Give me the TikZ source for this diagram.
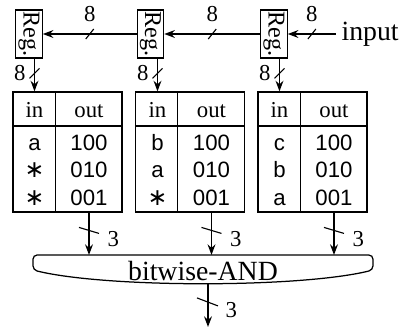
\documentclass[tikz,border=0pt]{standalone}
\usepackage{fontspec}
\setmainfont{Liberation Serif}
\setsansfont{Liberation Sans}
\newfontfamily\symfont{DejaVu Sans}
\usepackage{graphicx}
\usetikzlibrary{math}
\usetikzlibrary{arrows.meta}
\usetikzlibrary{positioning}

\newcommand{\anyin}{{\symfont\fontsize{8.5}{8.5}\selectfont ∗}}

\tikzset{
  reg/.style={draw, line width=0.4pt, minimum width=9.5pt, minimum height=17.3pt, inner sep=0pt, font=\fontsize{8.7}{8.7}\selectfont},
  tab/.style={draw, line width=0.45pt, minimum width=39.2pt, minimum height=43.2pt, inner sep=0pt},
  bus/.style={line width=0.7pt, -{Stealth[length=3.8pt,width=2.8pt]}},
  head/.style={anchor=base, inner sep=0pt, font=\fontsize{8.2}{8.2}\selectfont},
  cell/.style={anchor=base, inner sep=0pt, font=\sffamily\fontsize{8}{8}\selectfont},
  lbl/.style={inner sep=0pt, font=\fontsize{8.2}{8.2}\selectfont},
  big/.style={inner sep=0pt, font=\fontsize{10}{10}\selectfont},
  slash/.style={line width=0.4pt},
}

\begin{document}
\begin{tikzpicture}[x=0.36pt, y=-0.36pt]
    \useasboundingbox (0,0) rectangle (404,329);

    \tikzmath{\yr = 34;};
    \tikzmath{\yh = 117;};
    \tikzmath{\ya = 150;};
    \tikzmath{\yb = 177.5;};
    \tikzmath{\yc = 205;};

    % registers and input
    \node[reg] (reg1) at (29,\yr) {\rotatebox{-90}{Reg.}};
    \node[reg] (reg2) at (150.5,\yr) {\rotatebox{-90}{Reg.}};
    \node[reg] (reg3) at (274,\yr) {\rotatebox{-90}{Reg.}};
    \node[big, anchor=west] (input) at (341,\yr) {input};
    \coordinate (src) at (336,\yr);

    \draw[bus] (src) -- coordinate (s3) (reg3.east);
    \draw[bus] (reg3.west) -- coordinate (s2) (reg2.east);
    \draw[bus] (reg2.west) -- coordinate (s1) (reg1.east);
    \draw[slash] ([shift={(-4,5)}]s1) -- ([shift={(4,-5)}]s1);
    \draw[slash] ([shift={(-4,5)}]s2) -- ([shift={(4,-5)}]s2);
    \draw[slash] ([shift={(-4,5)}]s3) -- ([shift={(4,-5)}]s3);
    \node[lbl, above=4.3pt of s1] (w1) {8};
    \node[lbl, above=4.3pt of s2] (w2) {8};
    \node[lbl, above=4.3pt of s3] (w3) {8};

    % tables
    \node[tab] (tab1) at (67.5,152) {};
    \node[tab] (tab2) at (190,152) {};
    \node[tab] (tab3) at (312.5,152) {};
    \draw (tab1.north west) ++(43,0) coordinate (d1) -- (d1 |- tab1.south);
    \draw (tab2.north west) ++(43,0) coordinate (d2) -- (d2 |- tab2.south);
    \draw (tab3.north west) ++(43,0) coordinate (d3) -- (d3 |- tab3.south);
    \draw (tab1.west |- 0,126) -- (tab1.east |- 0,126);
    \draw (tab2.west |- 0,126) -- (tab2.east |- 0,126);
    \draw (tab3.west |- 0,126) -- (tab3.east |- 0,126);

    \node[head] (hin1) at (34.5,\yh) {in};
    \node[head] (hout1) at (89,\yh) {out};
    \node[cell] (a1) at (34.5,\ya) {a};
    \node[cell] (b1) at (34.5,\yb) {\anyin};
    \node[cell] (c1) at (34.5,\yc) {\anyin};
    \node[cell] (p1) at (89,\ya) {100};
    \node[cell] (q1) at (89,\yb) {010};
    \node[cell] (r1) at (89,\yc) {001};

    \node[head] (hin2) at (157.5,\yh) {in};
    \node[head] (hout2) at (211.5,\yh) {out};
    \node[cell] (a2) at (157.5,\ya) {b};
    \node[cell] (b2) at (157.5,\yb) {a};
    \node[cell] (c2) at (157.5,\yc) {\anyin};
    \node[cell] (p2) at (211.5,\ya) {100};
    \node[cell] (q2) at (211.5,\yb) {010};
    \node[cell] (r2) at (211.5,\yc) {001};

    \node[head] (hin3) at (279.5,\yh) {in};
    \node[head] (hout3) at (334,\yh) {out};
    \node[cell] (a3) at (279.5,\ya) {c};
    \node[cell] (b3) at (279.5,\yb) {b};
    \node[cell] (c3) at (279.5,\yc) {a};
    \node[cell] (p3) at (334,\ya) {100};
    \node[cell] (q3) at (334,\yb) {010};
    \node[cell] (r3) at (334,\yc) {001};

    % register -> table
    \draw[bus] (reg1.south -| hin1) -- coordinate[pos=0.45] (v1) (hin1 |- tab1.north);
    \draw[bus] (reg2.south -| hin2) -- coordinate[pos=0.45] (v2) (hin2 |- tab2.north);
    \draw[bus] (reg3.south -| hin3) -- coordinate[pos=0.45] (v3) (hin3 |- tab3.north);
    \draw[slash] ([shift={(-5,5)}]v1) -- ([shift={(5,-5)}]v1);
    \draw[slash] ([shift={(-5,5)}]v2) -- ([shift={(5,-5)}]v2);
    \draw[slash] ([shift={(-5,5)}]v3) -- ([shift={(5,-5)}]v3);
    \node[lbl, left=3pt of v1] (u1) {8};
    \node[lbl, left=3pt of v2] (u2) {8};
    \node[lbl, left=3pt of v3] (u3) {8};

    % bitwise-AND
    \coordinate (andtop) at (203,255);
    \coordinate (andbot) at (208,283);
    \coordinate (outp) at (208,327);
    \draw[line width=0.45pt, rounded corners=1.5pt] (33,255) -- (373,255) -- (373,270)
        .. controls (300,288) and (106,288) .. (33,270) -- cycle;
    \node[big, anchor=base] (band) at (203,280) {bitwise-AND};

    \draw[bus] (hout1 |- tab1.south) -- coordinate[pos=0.42] (o1) (hout1 |- andtop);
    \draw[bus] (hout2 |- tab2.south) -- coordinate[pos=0.42] (o2) (hout2 |- andtop);
    \draw[bus] (hout3 |- tab3.south) -- coordinate[pos=0.42] (o3) (hout3 |- andtop);
    \draw[slash] ([shift={(-10,-3)}]o1) -- ([shift={(10,3)}]o1);
    \draw[slash] ([shift={(-10,-3)}]o2) -- ([shift={(10,3)}]o2);
    \draw[slash] ([shift={(-10,-3)}]o3) -- ([shift={(10,3)}]o3);
    \node[lbl, anchor=west] (t1) at ([shift={(18,9)}]o1) {3};
    \node[lbl, anchor=west] (t2) at ([shift={(18,9)}]o2) {3};
    \node[lbl, anchor=west] (t3) at ([shift={(18,9)}]o3) {3};

    \draw[bus] (andbot) -- coordinate[pos=0.43] (o4) (outp);
    \draw[slash] ([shift={(-11,-4)}]o4) -- ([shift={(10,4)}]o4);
    \node[lbl, anchor=west] (t4) at ([shift={(17,8)}]o4) {3};

\end{tikzpicture}
\end{document}
